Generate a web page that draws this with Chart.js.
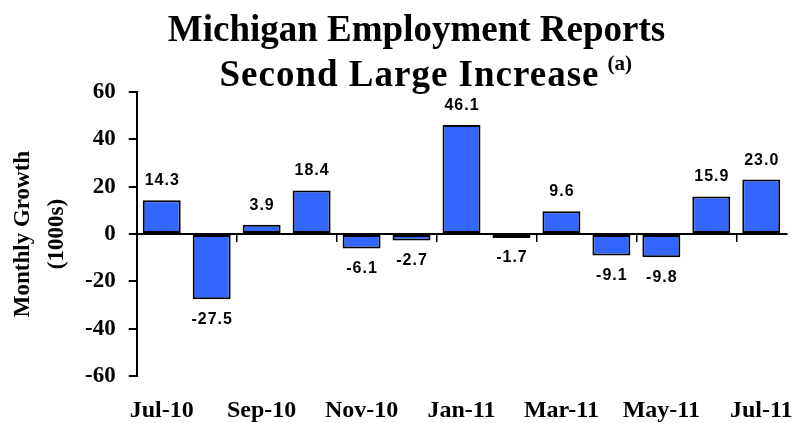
<!DOCTYPE html>
<html><head><meta charset="utf-8">
<script src="https://cdn.jsdelivr.net/npm/chart.js@4/dist/chart.umd.min.js"></script>
<style>html,body{margin:0;padding:0;background:#fff}#wrap{width:809px;height:423px}</style>
</head><body><div id="wrap"><canvas id="c" width="809" height="423"></canvas></div>
<script>
const categories = ['Jul-10','Aug-10','Sep-10','Oct-10','Nov-10','Dec-10','Jan-11','Feb-11','Mar-11','Apr-11','May-11','Jun-11','Jul-11'];
const growth = [14.3, -27.5, 3.9, 18.4, -6.1, -2.7, 46.1, -1.7, 9.6, -9.1, -9.8, 15.9, 23.0];
const yTicks = [-60, -40, -20, 0, 20, 40, 60];
const titleLines = ['Michigan Employment Reports', 'Second Large Increase'];
const titleNote = '(a)';
const yTitle = ['Monthly Growth', '(1000s)'];

const SERIF = '"Liberation Serif", "Times New Roman", serif';
const SANS = '"Liberation Sans", Arial, sans-serif';

const valueLabels = {
  id: 'valueLabels',
  afterDatasetsDraw(chart) {
    const ctx = chart.ctx;
    const meta = chart.getDatasetMeta(0);
    ctx.save();
    ctx.font = 'bold 16px ' + SANS;
    ctx.fillStyle = '#000';
    ctx.textAlign = 'center';
    try { ctx.letterSpacing = '1px'; } catch (e) {}
    meta.data.forEach((bar, i) => {
      const v = growth[i];
      const txt = v.toFixed(1);
      if (v >= 0) {
        ctx.textBaseline = 'alphabetic';
        ctx.fillText(txt, bar.x + 0.5, bar.y - 15);
      } else {
        ctx.textBaseline = 'top';
        ctx.fillText(txt, bar.x + 0.5, bar.y + 12);
      }
    });
    ctx.restore();
  }
};

// Two-line title with a superscript note, drawn as real canvas text
const titlePlugin = {
  id: 'titleText',
  afterDraw(chart) {
    const ctx = chart.ctx;
    const cx = chart.width / 2;
    ctx.save();
    ctx.fillStyle = '#000';
    ctx.textBaseline = 'alphabetic';
    ctx.textAlign = 'center';
    ctx.font = 'bold 37px ' + SERIF;
    ctx.fillText(titleLines[0], cx + 12, 41);
    try { ctx.letterSpacing = '1px'; } catch (e) {}
    ctx.fillText(titleLines[1], cx + 5, 86);
    const w2 = ctx.measureText(titleLines[1]).width;
    try { ctx.letterSpacing = '0px'; } catch (e) {}
    ctx.font = 'bold 21px ' + SERIF;
    ctx.textAlign = 'left';
    ctx.fillText(titleNote, cx + 5 + w2 / 2 + 8, 70);
    ctx.restore();
  }
};

new Chart(document.getElementById('c'), {
  type: 'bar',
  data: {
    labels: categories,
    datasets: [{
      data: growth,
      backgroundColor: '#3366FF',
      borderColor: '#000',
      borderWidth: 2,
      borderSkipped: false,
      barPercentage: 0.76,
      categoryPercentage: 1.0
    }]
  },
  options: {
    responsive: false,
    animation: false,
    layout: {padding: {left: 0, right: 10, top: 92, bottom: -23}},
    plugins: {
      legend: {display: false},
      tooltip: {enabled: false},
      title: {display: false}
    },
    scales: {
      x: {
        type: 'category',
        offset: true,
        grid: {display: false, drawTicks: false},
        border: {display: false},
        ticks: {
          autoSkip: false,
          maxRotation: 0,
          padding: 16,
          color: '#000',
          font: {family: SERIF, size: 24, weight: 'bold', lineHeight: 1.58},
          callback: (v, i) => (i % 2 === 0 ? categories[i] : '')
        }
      },
      x2: {
        type: 'category',
        axis: 'x',
        offset: true,
        position: {y: 0},
        ticks: {display: false},
        grid: {
          display: true,
          offset: true,
          drawOnChartArea: false,
          drawTicks: true,
          tickLength: 7,
          lineWidth: 1.5,
          color: (c) => (c.index % 2 === 0 && c.index > 0 && c.index < categories.length) ? '#000' : 'rgba(0,0,0,0)'
        },
        border: {display: true, color: '#000', width: 2}
      },
      y: {
        min: -60,
        max: 60,
        afterBuildTicks: (s) => { s.ticks = yTicks.map(v => ({value: v})); },
        grid: {drawOnChartArea: false, drawTicks: true, tickLength: 8, color: '#000', lineWidth: 2},
        border: {display: true, color: '#000', width: 2},
        ticks: {
          padding: 13,
          color: '#000',
          font: {family: SERIF, size: 23, weight: 'bold'}
        },
        title: {
          display: true,
          text: yTitle,
          color: '#000',
          font: {family: SERIF, size: 23, weight: 'bold', lineHeight: 1.48},
          padding: {top: 6, bottom: -2}
        }
      }
    }
  },
  plugins: [valueLabels, titlePlugin]
});
</script>
</body></html>
